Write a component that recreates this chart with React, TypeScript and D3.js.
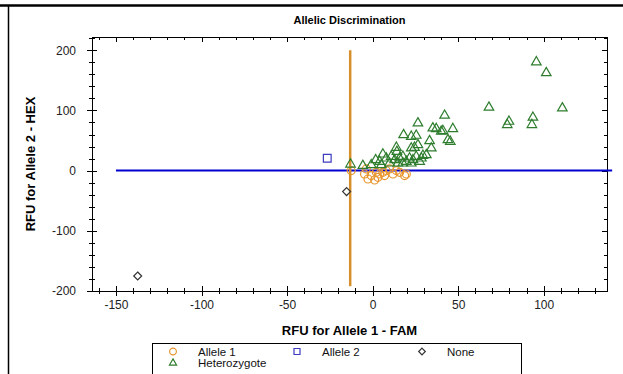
import { useEffect, useRef } from "react";
import * as d3 from "d3";

// Allele 1 (orange circles)
const allele1X = [-12.5, -4.7, -2.7, 1.2, -0.8, 4.1, 6.0, 8.0, 9.9, 11.9, 13.9, 15.8, 18.7, 19.7, 3.1, 7.0, -3.7, 2.2];
const allele1Y = [0, -5.6, -13.9, -15.6, -8.3, -5.6, -2.8, 0, 2.8, -5.6, 0, -2.8, -8.3, -5.6, -11.1, -8.3, 2.8, -2.8];

// Allele 2 (blue square)
const allele2X = [-26.5];
const allele2Y = [20.4];

// None (diamonds)
const noneX = [-15.2, -137.3];
const noneY = [-34.8, -175];

// Heterozygote (green triangles)
const hetX = [
  -12.9, -5.7, 1.8, 6.0, 4.1, 8.0, 10.9, 13.9, 14.2, 12.9, 15.8, 17.7, 19.7, 21.6, 23.6, 25.5,
  27.5, 29.4, 31.4, 14.8, 9.9, 5.1, -0.8, 17.7, 22.6, 28.5, 42.1, 26.5, 35.2, 37.2, 40.1, 46.9,
  44.0, 45.4, 18.1, 22.6, 25.5, 26.5, 33.3, 34.3, 22.6, 24.5, 95.7, 101.5, 68.0, 110.9, 79.7,
  78.7, 93.7, 93.1, 41.1,
];
const hetY = [
  12.2, 10, 19.4, 28.9, 16.7, 22.2, 25, 40, 33.3, 19.4, 22.2, 25, 16.7, 22.2, 19.4, 25, 16.7,
  26.7, 27.8, 13.9, 13.9, 11.1, 11.1, 13.9, 13.9, 22.2, 93.3, 80.5, 72.2, 71.1, 66.7, 71.1, 52.8,
  50, 61.1, 58.3, 60, 44.4, 51.1, 38.9, 38.9, 40, 182, 164, 106.7, 105.5, 83.3, 77.8, 90, 77.8,
  67.8,
];

// threshold lines
const vLineX = [-13.1, -13.1];
const vLineY = [-192, 200];
const hLineX = [-150, 140];
const hLineY = [0, 0];

const xMajor = [-150, -100, -50, 0, 50, 100];
const yMajor = [-200, -100, 0, 100, 200];
const xMinor = d3.range(-160, 131, 10);
const yMinor = d3.range(-200, 221, 20);

const legendItems = [
  { name: "Allele 1", shape: "circle", color: "#e8962e" },
  { name: "Allele 2", shape: "square", color: "#3c3cbe" },
  { name: "None", shape: "diamond", color: "#333333" },
  { name: "Heterozygote", shape: "triangle", color: "#2e7d2e" },
];

const font = "'Liberation Sans', Arial, sans-serif";

export default function App() {
  const ref = useRef<SVGSVGElement>(null);

  useEffect(() => {
    const svg = d3.select(ref.current);
    svg.selectAll("*").remove();

    const left = 92, right = 607, top = 37, bottom = 291;
    const x = d3.scaleLinear().domain([-164, 137]).range([left, right]);
    const y = d3.scaleLinear().domain([-200, 222]).range([bottom, top]);

    svg.append("rect").attr("width", 623).attr("height", 374).attr("fill", "#fff");

    // page frame
    svg.append("line").attr("x1", 0).attr("x2", 623).attr("y1", 5.5).attr("y2", 5.5)
      .attr("stroke", "#000").attr("stroke-width", 2.5);
    svg.append("line").attr("x1", 8.5).attr("x2", 8.5).attr("y1", 5).attr("y2", 374)
      .attr("stroke", "#000").attr("stroke-width", 1.5);

    // title
    svg.append("text").attr("x", (left + right) / 2).attr("y", 24)
      .attr("text-anchor", "middle").attr("font-family", font)
      .attr("font-size", 11).attr("font-weight", "bold").text("Allelic Discrimination");

    // plot box
    svg.append("rect").attr("x", left + 0.5).attr("y", top + 0.5)
      .attr("width", right - left).attr("height", bottom - top)
      .attr("fill", "none").attr("stroke", "#000").attr("stroke-width", 1);

    // ticks crossing the bottom/left axes, inward on top/right
    const ticks = svg.append("g").attr("stroke", "#000").attr("stroke-width", 1);
    const xTicks = (vals: number[], s: number) => {
      vals.forEach((v) => {
        const px = Math.round(x(v)) + 0.5;
        ticks.append("line").attr("x1", px).attr("x2", px).attr("y1", bottom - s).attr("y2", bottom + s);
        ticks.append("line").attr("x1", px).attr("x2", px).attr("y1", top).attr("y2", top + s);
      });
    };
    const yTicks = (vals: number[], s: number) => {
      vals.forEach((v) => {
        const py = Math.round(y(v)) + 0.5;
        ticks.append("line").attr("x1", left - s).attr("x2", left + s).attr("y1", py).attr("y2", py);
        ticks.append("line").attr("x1", right - s).attr("x2", right).attr("y1", py).attr("y2", py);
      });
    };
    xTicks(xMinor, 3);
    xTicks(xMajor, 5);
    yTicks(yMinor, 3);
    yTicks(yMajor, 5);

    const xAxis = d3.axisBottom(x).tickValues(xMajor).tickSize(0).tickPadding(9)
      .tickFormat((d) => String(d));
    svg.append("g").attr("transform", `translate(0,${bottom})`).call(xAxis)
      .call((g) => g.select(".domain").remove())
      .selectAll("text").attr("font-family", font).attr("font-size", 12).attr("fill", "#222");
    const yAxis = d3.axisLeft(y).tickValues(yMajor).tickSize(0).tickPadding(16)
      .tickFormat((d) => String(d));
    svg.append("g").attr("transform", `translate(${left},0)`).call(yAxis)
      .call((g) => g.select(".domain").remove())
      .selectAll("text").attr("font-family", font).attr("font-size", 12).attr("fill", "#222");

    // axis titles
    svg.append("text").attr("x", (left + right) / 2).attr("y", 335)
      .attr("text-anchor", "middle").attr("font-family", font)
      .attr("font-size", 13).attr("font-weight", "bold").text("RFU for Allele 1 - FAM");
    svg.append("text").attr("transform", `translate(35,${(top + bottom) / 2}) rotate(-90)`)
      .attr("text-anchor", "middle").attr("font-family", font)
      .attr("font-size", 13).attr("font-weight", "bold").text("RFU for Allele 2 - HEX");

    // threshold lines
    const path = d3.line<[number, number]>().x((d) => x(d[0])).y((d) => y(d[1]));
    svg.append("path")
      .attr("d", path(d3.zip(hLineX, hLineY) as [number, number][]))
      .attr("stroke", "#0000d0").attr("stroke-width", 2).attr("fill", "none");
    svg.append("path")
      .attr("d", path(d3.zip(vLineX, vLineY) as [number, number][]))
      .attr("stroke", "#d68f2a").attr("stroke-width", 2.5).attr("fill", "none");

    const sym = (shape: string, size: number) => {
      const t = shape === "circle" ? d3.symbolCircle : shape === "square" ? d3.symbolSquare
        : shape === "diamond" ? d3.symbolDiamond2 : d3.symbolTriangle2;
      return d3.symbol().type(t).size(size)();
    };

    const drawPts = (xs: number[], ys: number[], shape: string, color: string, size: number, dy = 0) => {
      svg.append("g").selectAll("path").data(d3.zip(xs, ys)).enter().append("path")
        .attr("d", sym(shape, size))
        .attr("transform", (d) => `translate(${x(d[0])},${y(d[1]) + dy})`)
        .attr("fill", "none").attr("stroke", color).attr("stroke-width", 1.2);
    };
    drawPts(allele1X, allele1Y, "circle", legendItems[0].color, 50);
    drawPts(hetX, hetY, "triangle", legendItems[3].color, 65, 1);
    drawPts(allele2X, allele2Y, "square", legendItems[1].color, 60);
    drawPts(noneX, noneY, "diamond", legendItems[2].color, 40);

    // legend
    const lg = svg.append("g");
    lg.append("rect").attr("x", 152.5).attr("y", 343.5).attr("width", 369).attr("height", 40)
      .attr("fill", "#fff").attr("stroke", "#000").attr("stroke-width", 1);
    const pos = [[173, 351.5], [297, 351.5], [422, 351.5], [173, 363]];
    legendItems.forEach((it, i) => {
      lg.append("path").attr("d", sym(it.shape, it.shape === "diamond" ? 28 : 36))
        .attr("transform", `translate(${pos[i][0]},${pos[i][1]})`)
        .attr("fill", "none").attr("stroke", it.color).attr("stroke-width", 1.2);
      lg.append("text").attr("x", pos[i][0] + 25).attr("y", pos[i][1] + 4)
        .attr("font-family", font).attr("font-size", 11.5).attr("fill", "#111").text(it.name);
    });
  }, []);

  return (
    <svg ref={ref} width={623} height={374} style={{ position: "absolute", left: 0, top: 0 }}></svg>
  );
}
